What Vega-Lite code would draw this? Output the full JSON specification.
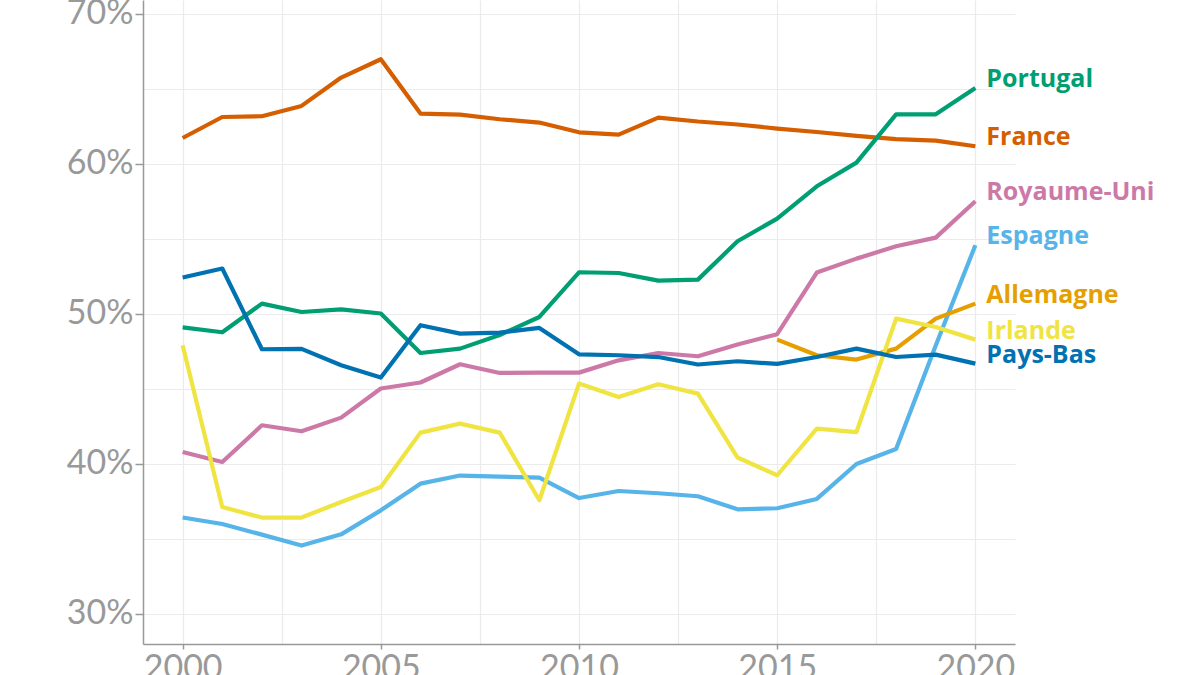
{
  "$schema": "https://vega.github.io/schema/vega-lite/v6.json",
  "width": 872,
  "height": 644,
  "autosize": {"type": "none"},
  "padding": {"left": 143, "top": 0, "right": 185, "bottom": 31},
  "background": "white",
  "config": {
    "view": {"stroke": null},
    "axis": {
      "labelFont": "Lato",
      "labelFontWeight": "normal",
      "labelFontSize": 34,
      "labelColor": "#999999",
      "domainColor": "#999999",
      "domainWidth": 1.5,
      "tickColor": "#999999",
      "tickWidth": 1.5,
      "gridColor": "#ebebeb",
      "gridWidth": 1.2,
      "title": null
    }
  },
  "data": {
    "values": [
      {"country": "France", "year": 2000, "value": 61.73},
      {"country": "France", "year": 2001, "value": 63.13},
      {"country": "France", "year": 2002, "value": 63.18},
      {"country": "France", "year": 2003, "value": 63.87},
      {"country": "France", "year": 2004, "value": 65.76},
      {"country": "France", "year": 2005, "value": 66.98},
      {"country": "France", "year": 2006, "value": 63.36},
      {"country": "France", "year": 2007, "value": 63.29},
      {"country": "France", "year": 2008, "value": 62.98},
      {"country": "France", "year": 2009, "value": 62.76},
      {"country": "France", "year": 2010, "value": 62.11},
      {"country": "France", "year": 2011, "value": 61.96},
      {"country": "France", "year": 2012, "value": 63.09},
      {"country": "France", "year": 2013, "value": 62.83},
      {"country": "France", "year": 2014, "value": 62.63},
      {"country": "France", "year": 2015, "value": 62.36},
      {"country": "France", "year": 2016, "value": 62.13},
      {"country": "France", "year": 2017, "value": 61.87},
      {"country": "France", "year": 2018, "value": 61.65},
      {"country": "France", "year": 2019, "value": 61.56},
      {"country": "France", "year": 2020, "value": 61.18},

      {"country": "Portugal", "year": 2000, "value": 49.11},
      {"country": "Portugal", "year": 2001, "value": 48.78},
      {"country": "Portugal", "year": 2002, "value": 50.69},
      {"country": "Portugal", "year": 2003, "value": 50.13},
      {"country": "Portugal", "year": 2004, "value": 50.31},
      {"country": "Portugal", "year": 2005, "value": 50.03},
      {"country": "Portugal", "year": 2006, "value": 47.4},
      {"country": "Portugal", "year": 2007, "value": 47.69},
      {"country": "Portugal", "year": 2008, "value": 48.6},
      {"country": "Portugal", "year": 2009, "value": 49.8},
      {"country": "Portugal", "year": 2010, "value": 52.78},
      {"country": "Portugal", "year": 2011, "value": 52.73},
      {"country": "Portugal", "year": 2012, "value": 52.22},
      {"country": "Portugal", "year": 2013, "value": 52.29},
      {"country": "Portugal", "year": 2014, "value": 54.85},
      {"country": "Portugal", "year": 2015, "value": 56.36},
      {"country": "Portugal", "year": 2016, "value": 58.51},
      {"country": "Portugal", "year": 2017, "value": 60.09},
      {"country": "Portugal", "year": 2018, "value": 63.31},
      {"country": "Portugal", "year": 2019, "value": 63.31},
      {"country": "Portugal", "year": 2020, "value": 65.07},

      {"country": "Royaume-Uni", "year": 2000, "value": 40.8},
      {"country": "Royaume-Uni", "year": 2001, "value": 40.13},
      {"country": "Royaume-Uni", "year": 2002, "value": 42.58},
      {"country": "Royaume-Uni", "year": 2003, "value": 42.18},
      {"country": "Royaume-Uni", "year": 2004, "value": 43.09},
      {"country": "Royaume-Uni", "year": 2005, "value": 45.03},
      {"country": "Royaume-Uni", "year": 2006, "value": 45.43},
      {"country": "Royaume-Uni", "year": 2007, "value": 46.65},
      {"country": "Royaume-Uni", "year": 2008, "value": 46.07},
      {"country": "Royaume-Uni", "year": 2009, "value": 46.09},
      {"country": "Royaume-Uni", "year": 2010, "value": 46.09},
      {"country": "Royaume-Uni", "year": 2011, "value": 46.91},
      {"country": "Royaume-Uni", "year": 2012, "value": 47.4},
      {"country": "Royaume-Uni", "year": 2013, "value": 47.18},
      {"country": "Royaume-Uni", "year": 2014, "value": 47.96},
      {"country": "Royaume-Uni", "year": 2015, "value": 48.65},
      {"country": "Royaume-Uni", "year": 2016, "value": 52.76},
      {"country": "Royaume-Uni", "year": 2017, "value": 53.69},
      {"country": "Royaume-Uni", "year": 2018, "value": 54.51},
      {"country": "Royaume-Uni", "year": 2019, "value": 55.09},
      {"country": "Royaume-Uni", "year": 2020, "value": 57.51},

      {"country": "Espagne", "year": 2000, "value": 36.43},
      {"country": "Espagne", "year": 2001, "value": 36.0},
      {"country": "Espagne", "year": 2002, "value": 35.29},
      {"country": "Espagne", "year": 2003, "value": 34.56},
      {"country": "Espagne", "year": 2004, "value": 35.31},
      {"country": "Espagne", "year": 2005, "value": 36.91},
      {"country": "Espagne", "year": 2006, "value": 38.69},
      {"country": "Espagne", "year": 2007, "value": 39.23},
      {"country": "Espagne", "year": 2008, "value": 39.16},
      {"country": "Espagne", "year": 2009, "value": 39.09},
      {"country": "Espagne", "year": 2010, "value": 37.73},
      {"country": "Espagne", "year": 2011, "value": 38.2},
      {"country": "Espagne", "year": 2012, "value": 38.05},
      {"country": "Espagne", "year": 2013, "value": 37.85},
      {"country": "Espagne", "year": 2014, "value": 36.98},
      {"country": "Espagne", "year": 2015, "value": 37.05},
      {"country": "Espagne", "year": 2016, "value": 37.67},
      {"country": "Espagne", "year": 2017, "value": 40.0},
      {"country": "Espagne", "year": 2018, "value": 41.0},
      {"country": "Espagne", "year": 2019, "value": 47.9},
      {"country": "Espagne", "year": 2020, "value": 54.58},

      {"country": "Allemagne", "year": 2015, "value": 48.29},
      {"country": "Allemagne", "year": 2016, "value": 47.25},
      {"country": "Allemagne", "year": 2017, "value": 46.96},
      {"country": "Allemagne", "year": 2018, "value": 47.69},
      {"country": "Allemagne", "year": 2019, "value": 49.69},
      {"country": "Allemagne", "year": 2020, "value": 50.69},

      {"country": "Irlande", "year": 2000, "value": 47.91},
      {"country": "Irlande", "year": 2001, "value": 37.13},
      {"country": "Irlande", "year": 2002, "value": 36.43},
      {"country": "Irlande", "year": 2003, "value": 36.43},
      {"country": "Irlande", "year": 2004, "value": 37.47},
      {"country": "Irlande", "year": 2005, "value": 38.47},
      {"country": "Irlande", "year": 2006, "value": 42.09},
      {"country": "Irlande", "year": 2007, "value": 42.69},
      {"country": "Irlande", "year": 2008, "value": 42.09},
      {"country": "Irlande", "year": 2009, "value": 37.58},
      {"country": "Irlande", "year": 2010, "value": 45.36},
      {"country": "Irlande", "year": 2011, "value": 44.47},
      {"country": "Irlande", "year": 2012, "value": 45.31},
      {"country": "Irlande", "year": 2013, "value": 44.69},
      {"country": "Irlande", "year": 2014, "value": 40.43},
      {"country": "Irlande", "year": 2015, "value": 39.25},
      {"country": "Irlande", "year": 2016, "value": 42.36},
      {"country": "Irlande", "year": 2017, "value": 42.13},
      {"country": "Irlande", "year": 2018, "value": 49.69},
      {"country": "Irlande", "year": 2019, "value": 49.13},
      {"country": "Irlande", "year": 2020, "value": 48.29},

      {"country": "Pays-Bas", "year": 2000, "value": 52.43},
      {"country": "Pays-Bas", "year": 2001, "value": 53.03},
      {"country": "Pays-Bas", "year": 2002, "value": 47.65},
      {"country": "Pays-Bas", "year": 2003, "value": 47.67},
      {"country": "Pays-Bas", "year": 2004, "value": 46.58},
      {"country": "Pays-Bas", "year": 2005, "value": 45.76},
      {"country": "Pays-Bas", "year": 2006, "value": 49.25},
      {"country": "Pays-Bas", "year": 2007, "value": 48.69},
      {"country": "Pays-Bas", "year": 2008, "value": 48.76},
      {"country": "Pays-Bas", "year": 2009, "value": 49.07},
      {"country": "Pays-Bas", "year": 2010, "value": 47.31},
      {"country": "Pays-Bas", "year": 2011, "value": 47.25},
      {"country": "Pays-Bas", "year": 2012, "value": 47.13},
      {"country": "Pays-Bas", "year": 2013, "value": 46.63},
      {"country": "Pays-Bas", "year": 2014, "value": 46.85},
      {"country": "Pays-Bas", "year": 2015, "value": 46.67},
      {"country": "Pays-Bas", "year": 2016, "value": 47.13},
      {"country": "Pays-Bas", "year": 2017, "value": 47.69},
      {"country": "Pays-Bas", "year": 2018, "value": 47.13},
      {"country": "Pays-Bas", "year": 2019, "value": 47.29},
      {"country": "Pays-Bas", "year": 2020, "value": 46.69}
    ]
  },
  "encoding": {
    "x": {
      "field": "year",
      "type": "quantitative",
      "scale": {"domain": [1999, 2021], "nice": false, "zero": false},
      "axis": {
        "values": [2000, 2002.5, 2005, 2007.5, 2010, 2012.5, 2015, 2017.5, 2020],
        "labelExpr": "datum.value % 5 === 0 ? datum.value : ''",
        "tickOpacity": {"condition": {"test": "datum.value % 5 === 0", "value": 1}, "value": 0},
        "tickSize": 5,
        "labelPadding": 2,
        "grid": true,
        "labelFlush": false,
        "labelOverlap": false
      }
    },
    "y": {
      "field": "value",
      "type": "quantitative",
      "scale": {"domain": [28, 70.93], "nice": false, "zero": false},
      "axis": {
        "values": [30, 35, 40, 45, 50, 55, 60, 65, 70],
        "labelExpr": "datum.value % 10 === 0 ? datum.value + '%' : ''",
        "tickOpacity": {"condition": {"test": "datum.value % 10 === 0", "value": 1}, "value": 0},
        "tickSize": 8,
        "labelPadding": 2,
        "grid": true,
        "labelFlush": false,
        "labelOverlap": false
      }
    },
    "color": {
      "field": "country",
      "type": "nominal",
      "scale": {
        "domain": ["Irlande", "Allemagne", "Pays-Bas", "Portugal", "France", "Royaume-Uni", "Espagne"],
        "range": ["#F0E442", "#E69F00", "#0072B2", "#009E73", "#D55E00", "#CC79A7", "#56B4E9"]
      },
      "legend": null
    }
  },
  "layer": [
    {
      "mark": {"type": "line", "strokeWidth": 4.2, "strokeJoin": "round", "strokeCap": "butt"},
      "encoding": {
        "order": {"field": "year", "type": "quantitative"}
      }
    },
    {
      "transform": [{"filter": "datum.year === 2020"}],
      "mark": {
        "type": "text",
        "align": "left",
        "baseline": "middle",
        "dx": 11,
        "dy": -9,
        "font": "Open Sans",
        "fontWeight": "bold",
        "fontSize": 25
      },
      "encoding": {
        "text": {"field": "country", "type": "nominal"}
      }
    }
  ]
}
